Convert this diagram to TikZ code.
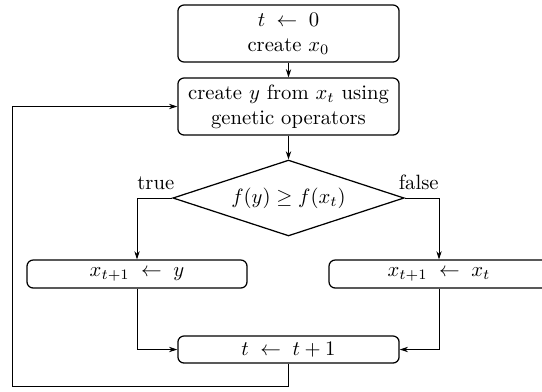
\documentclass[tikz,border=0pt]{standalone}
\usetikzlibrary{shapes.geometric,arrows.meta}

\tikzset{
  krok/.style={draw, semithick, rounded corners=3pt, align=center,
    minimum width=3.76cm, inner sep=0pt},
  podminka/.style={draw, semithick, diamond, aspect=3, inner sep=0pt,
    minimum width=3.93cm, minimum height=1.29cm},
  vetev/.style={inner xsep=0pt, inner ysep=4pt},
  sipka/.style={-{Stealth[length=4pt,width=2.6pt]}}
}

\begin{document}
\begin{tikzpicture}[x=0.017cm, y=-0.017cm]
  \useasboundingbox (0,0) rectangle (542,391);
  \def\stred{288.5};
  \def\levy{137};
  \def\pravy{439};
  \node[krok, minimum height=0.97cm] (init) at (\stred,33.5)
    {$t \;\leftarrow\; 0$\\ create $x_0$};
  \node[krok, minimum height=0.97cm] (gen) at (\stred,106.5)
    {create $y$ from $x_t$ using\\ genetic operators};
  \node[podminka] (test) at (\stred,198) {$f(y) \geq f(x_t)$};
  \node[krok, minimum width=3.74cm, minimum height=0.476cm] (prijmi) at (\levy,274)
    {$x_{t+1} \;\leftarrow\; y$};
  \node[krok, minimum width=3.74cm, minimum height=0.476cm] (ponech) at (\pravy,274)
    {$x_{t+1} \;\leftarrow\; x_t$};
  \node[krok, minimum height=0.46cm] (inc) at (\stred,349.5)
    {$t \;\leftarrow\; t + 1$};
  \node[vetev, anchor=south west] (ano) at (prijmi.north |- test.west) {true};
  \node[vetev, anchor=south east] (ne) at (ponech.north |- test.east) {false};
  \coordinate (smycka) at (12,386);
  %
  \draw[sipka] (init) -- (gen);
  \draw[sipka] (gen) -- (test);
  \draw[sipka] (test.west) -| (prijmi.north);
  \draw[sipka] (test.east) -| (ponech.north);
  \draw[sipka] (prijmi.south) |- (inc.west);
  \draw[sipka] (ponech.south) |- (inc.east);
  \draw[sipka] (inc.south) |- (smycka) |- (gen.west);
\end{tikzpicture}
\end{document}
